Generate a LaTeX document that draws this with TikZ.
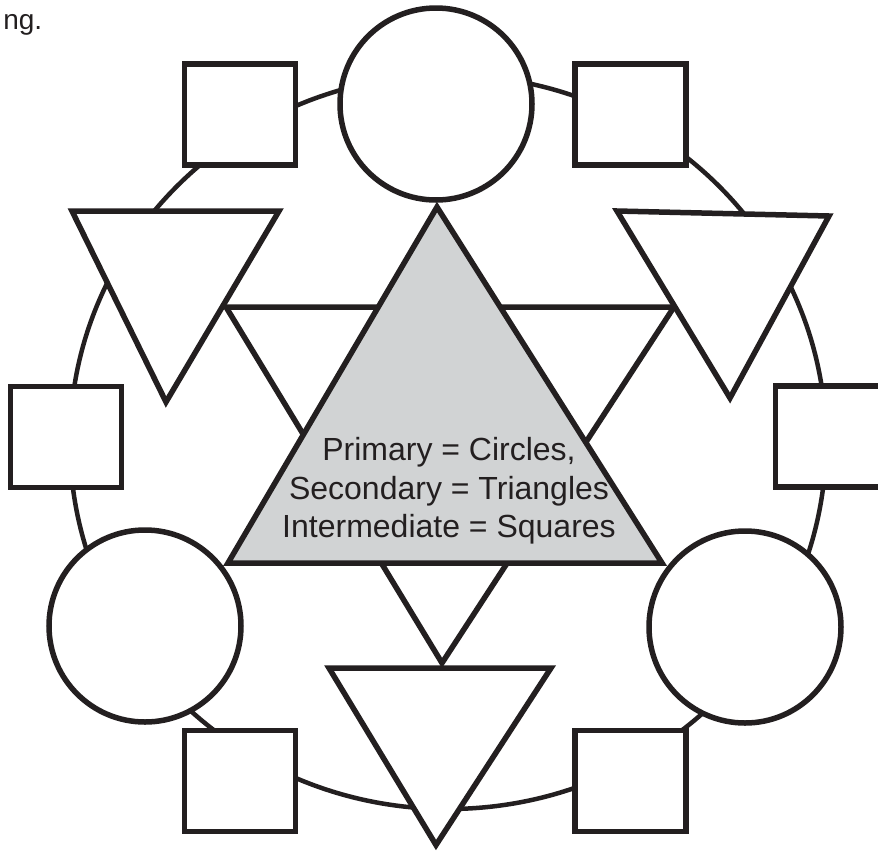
\documentclass[tikz,border=0pt]{standalone}
\usepackage{fontspec}
\setmainfont{Liberation Sans}
\usepackage{tikz}
\usetikzlibrary{shapes,positioning}
\definecolor{ink}{HTML}{231F20}
\definecolor{shade}{HTML}{D1D3D4}

\begin{document}
\begin{tikzpicture}[x=1pt,y=-1pt,line width=5.5pt,
	sq/.style={rectangle,draw=ink,fill=white,minimum width=111pt,minimum height=101pt,inner sep=0pt},
	circ/.style={circle,draw=ink,fill=white,minimum size=192pt,inner sep=0pt},
	tri/.style={draw=ink,fill=white}]
	\useasboundingbox (0,0) rectangle (878,852);
	\clip (0,0) rectangle (878,852);
	\node (N) [anchor=base west,text=ink,inner sep=0pt,font=\fontsize{28}{34}\selectfont] at (0.5,29) {ng.};

	% ring behind everything
	\draw[ink,line width=4.5pt] (448,442) ellipse [x radius=378, y radius=367];

	\draw[tri] (226,307) -- (674,307) -- (442,663) -- cycle;
	\draw[tri,fill=shade] (437,207) -- (228,563) -- (662,563) -- cycle;
	\draw[tri] (72,211) -- (279,211) -- (166,402) -- cycle;
	\draw[tri] (617,211) -- (829,216) -- (730,398) -- cycle;
	\draw[tri] (329,668) -- (551,668) -- (436,845) -- cycle;

	\node (C1) [circ] at (436,104) {};
	\node (C2) [circ] at (145,626) {};
	\node (C3) [circ] at (745,627) {};
	\node (S1) [sq] at (240,114.5) {};
	\node (S2) [sq] at (630.5,114.5) {};
	\node (S3) [sq] at (66,437) {};
	\node (S4) [sq] at (831,436.5) {};
	\node (S5) [sq] at (240,781) {};
	\node (S6) [sq] at (630.5,781) {};

	\node (L) [text=ink,align=center,font=\fontsize{32}{38.5}\selectfont] at (449,491)
		{Primary = Circles,\\Secondary = Triangles\\Intermediate = Squares};
\end{tikzpicture}
\end{document}
